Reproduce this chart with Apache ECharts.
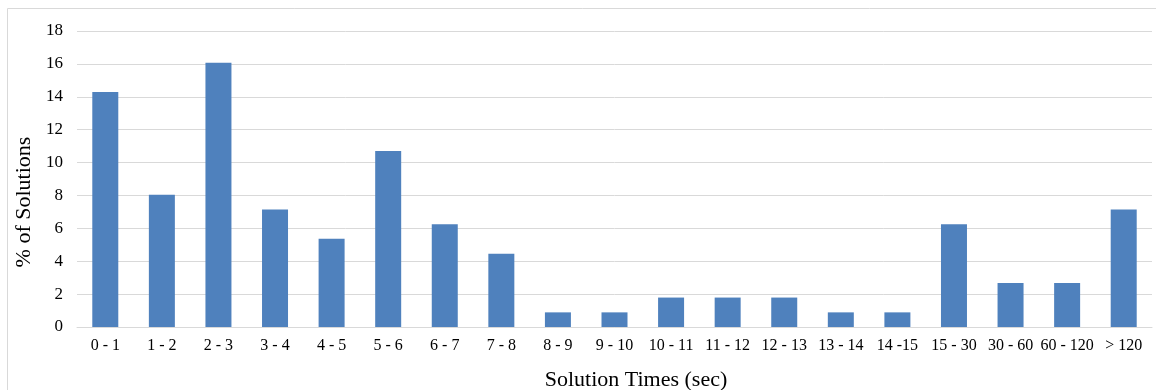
<!DOCTYPE html>
<html><head><meta charset="utf-8">
<script src="https://cdn.jsdelivr.net/npm/echarts@6/dist/echarts.min.js"></script>
<style>html,body{margin:0;padding:0;background:#fff}#c{width:1156px;height:390px}</style>
</head><body><div id="c"></div>
<script>
const categories = ["0 - 1","1 - 2","2 - 3","3 - 4","4 - 5","5 - 6","6 - 7","7 - 8","8 - 9","9 - 10","10 - 11","11 - 12","12 - 13","13 - 14","14 -15","15 - 30","30 - 60","60 - 120","> 120"];
const percentSolutions = [14.29,8.04,16.07,7.14,5.36,10.71,6.25,4.46,0.89,0.89,1.79,1.79,1.79,0.89,0.89,6.25,2.68,2.68,7.14];
const yTicks = {min:0, max:18, interval:2};
const xTitle = 'Solution Times (sec)';
const yTitle = '% of Solutions';
const font = "'Liberation Serif','Times New Roman',serif";
const chart = echarts.init(document.getElementById('c'), null, {renderer:'canvas'});
chart.setOption({
  animation:false,
  graphic:[
    {type:'rect',shape:{x:7.5,y:8.5,width:1160,height:400},style:{fill:'none',stroke:'#d9d9d9',lineWidth:1},silent:true},
    {type:'text',x:636,y:380,style:{text:xTitle,font:'22px '+font,fill:'#000',textAlign:'center',textVerticalAlign:'middle'},silent:true},
    {type:'text',x:24,y:202,rotation:Math.PI/2,style:{text:yTitle,font:'22px '+font,fill:'#000',textAlign:'center',textVerticalAlign:'middle'},silent:true}
  ],
  grid:{left:77,right:4,top:31,bottom:63},
  xAxis:{type:'category',data:categories,
    axisLine:{lineStyle:{color:'#d9d9d9'}},axisTick:{show:false},
    axisLabel:{fontFamily:font,fontSize:16,color:'#000',margin:11,interval:0}},
  yAxis:{type:'value',min:yTicks.min,max:yTicks.max,interval:yTicks.interval,
    axisLine:{show:false},axisTick:{show:false},
    axisLabel:{fontFamily:font,fontSize:17,color:'#000',margin:14},
    splitLine:{lineStyle:{color:'#d9d9d9'}}},
  series:[{type:'bar',data:percentSolutions,barWidth:26,
    itemStyle:{color:'#4F81BD'}}]
});
</script></body></html>
